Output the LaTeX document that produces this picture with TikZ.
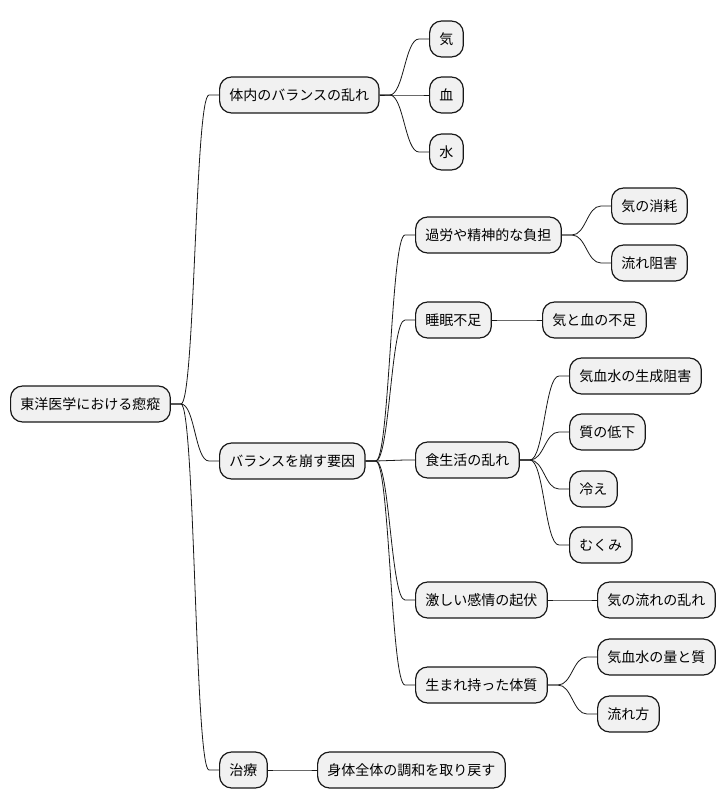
\documentclass[tikz,border=0pt]{standalone}
\usepackage{fontspec}
\setmainfont{Noto Sans CJK JP}
\usepackage{xcolor}
\usetikzlibrary{calc}
\definecolor{nodefill}{HTML}{F1F1F1}
\definecolor{nodeline}{HTML}{181818}
\tikzset{
	topic/.style={draw=nodeline, fill=nodefill, line width=0.9pt, rounded corners=9pt,
		minimum height=27pt, inner xsep=7.4pt, inner ysep=2pt, anchor=west,
		font=\fontsize{10.5pt}{12pt}\selectfont},
	edge/.style={draw=nodeline, line width=0.6pt},
}
\begin{document}
\begin{tikzpicture}[x=0.75pt, y=-0.75pt]
	\useasboundingbox (0,0) rectangle (726,809);
	% root and first level
	\node[topic] at (10,404) (root) {東洋医学における瘛瘲};
	\node[topic] at (219,95) (body) {体内のバランスの乱れ};
	\node[topic] at (219,461) (cause) {バランスを崩す要因};
	\node[topic] at (219,770) (cure) {治療};
	% qi, blood, water
	\node[topic] at (429,39) (qi) {気};
	\node[topic] at (429,95) (blood) {血};
	\node[topic] at (429,152) (water) {水};
	% causes
	\node[topic] at (415,235) (work) {過労や精神的な負担};
	\node[topic] at (415,320) (sleep) {睡眠不足};
	\node[topic] at (415,460) (diet) {食生活の乱れ};
	\node[topic] at (415,600) (mood) {激しい感情の起伏};
	\node[topic] at (415,685) (born) {生まれ持った体質};
	% effects
	\node[topic] at (611,206) (drain) {気の消耗};
	\node[topic] at (611,263) (block) {流れ阻害};
	\node[topic] at (542,320) (lack) {気と血の不足};
	\node[topic] at (569,376) (make) {気血水の生成阻害};
	\node[topic] at (569,432) (qual) {質の低下};
	\node[topic] at (569,489) (cold) {冷え};
	\node[topic] at (569,545) (swell) {むくみ};
	\node[topic] at (597,600) (flow) {気の流れの乱れ};
	\node[topic] at (597,657) (amount) {気血水の量と質};
	\node[topic] at (597,714) (way) {流れ方};
	\node[topic] at (317,770) (harmony) {身体全体の調和を取り戻す};
	% connectors
	\foreach \p/\c in {root/body, root/cause, root/cure, body/qi, body/blood, body/water,
		cause/work, cause/sleep, cause/diet, cause/mood, cause/born,
		work/drain, work/block, sleep/lack, diet/make, diet/qual, diet/cold, diet/swell,
		mood/flow, born/amount, born/way, cure/harmony}
		\draw[edge] (\p.east) -- ++(10,0) .. controls +(14,0) and +(-14,0) .. ([xshift=-7.5pt]\c.west) -- (\c.west);
\end{tikzpicture}
\end{document}
